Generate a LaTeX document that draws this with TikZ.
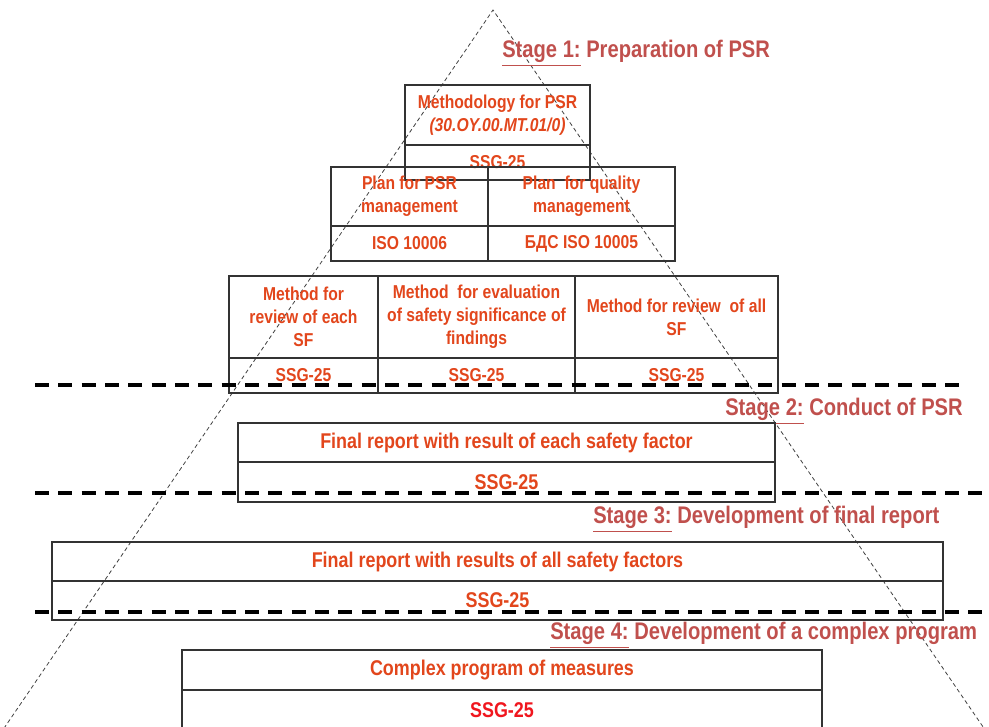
\documentclass[tikz,border=0pt]{standalone}
\usepackage{fontspec}
\setmainfont{Liberation Sans}[FakeStretch=0.84]
\usepackage{tikz}
\usetikzlibrary{positioning}
\definecolor{boxred}{RGB}{226,70,28}
\definecolor{stagered}{RGB}{192,80,77}
\definecolor{ssgred}{RGB}{240,22,30}

\begin{document}
\begin{tikzpicture}[x=0.75pt,y=-0.75pt,node distance=0pt,
  cell/.style={draw=black!80,line width=0.9pt,outer sep=0pt,inner sep=1pt,align=center,
    text=boxred,font=\bfseries\fontsize{14}{17.25}\selectfont},
  wide/.style={cell,font=\bfseries\fontsize{16}{18}\selectfont},
  stage/.style={anchor=west,inner sep=0pt,text=stagered,font=\bfseries\fontsize{18}{20}\selectfont},
  sep/.style={line width=2.3pt,dash pattern=on 10.5pt off 7pt},
  cone/.style={line width=0.6pt,black!75,dash pattern=on 3pt off 2.2pt}]
\useasboundingbox (0,0) rectangle (989,727);

\coordinate (apex) at (493,10);
\coordinate (bl) at (-4,740);
\coordinate (br) at (992,740);
\draw[cone] (bl) -- (apex) -- (br);

\node[stage] (s1) at (502,53) {\underline{Stage 1:} Preparation of PSR};
\node[cell,minimum width=138.75pt,minimum height=45pt] (meth) at (497.5,115)
  {Methodology for PSR\\\textit{(30.OY.00.MT.01/0)}};
\node[cell,minimum width=138.75pt,minimum height=26.25pt] (methssg) [below=of meth] {SSG-25};

\node[cell,minimum width=117.75pt,minimum height=44.25pt] (plana) at (409.5,196.5)
  {Plan for PSR\\management};
\node[cell,minimum width=140.25pt,minimum height=44.25pt] (planb) [right=of plana]
  {Plan\ \ for quality\\management};
\node[cell,minimum width=117.75pt,minimum height=26.25pt] (planassg) [below=of plana] {ISO 10006};
\node[cell,minimum width=140.25pt,minimum height=26.25pt] (planbssg) [below=of planb] {БДС ISO 10005};

\node[cell,minimum width=111.75pt,minimum height=61.5pt] (reva) at (303.5,317)
  {Method for\\review of each\\SF};
\node[cell,minimum width=147.75pt,minimum height=61.5pt] (revb) [right=of reva]
  {Method\ \ for evaluation\\of safety significance of\\findings};
\node[cell,minimum width=152.25pt,minimum height=61.5pt] (revc) [right=of revb]
  {Method for review\ \ of all\\SF};
\node[cell,minimum width=111.75pt,minimum height=26.25pt] (revassg) [below=of reva] {SSG-25};
\node[cell,minimum width=147.75pt,minimum height=26.25pt] (revbssg) [below=of revb] {SSG-25};
\node[cell,minimum width=152.25pt,minimum height=26.25pt] (revcssg) [below=of revc] {SSG-25};

\node[stage] (s2) at (725,411) {\underline{Stage 2:} Conduct of PSR};
\node[wide,minimum width=402.75pt,minimum height=29.25pt] (repa) at (506.5,442.5)
  {Final report with result of each safety factor};
\node[wide,minimum width=402.75pt,minimum height=30pt] (repassg) [below=of repa] {SSG-25};

\node[stage] (s3) at (593,519) {\underline{Stage 3:} Development of final report};
\node[wide,minimum width=668.25pt,minimum height=29.25pt] (repb) at (497.5,561.5)
  {Final report with results of all safety factors};
\node[wide,minimum width=668.25pt,minimum height=29.25pt] (repbssg) [below=of repb] {SSG-25};

\node[stage] (s4) at (550,635) {\underline{Stage 4:} Development of a complex program};
\node[wide,minimum width=480pt,minimum height=30pt] (prog) at (502,670)
  {Complex program of measures};
\node[wide,minimum width=480pt,minimum height=30pt,text=ssgred] (progssg) [below=of prog] {SSG-25};

\draw[sep] (35,385) -- (962,385);
\draw[sep] (35,493) -- (989,493);
\draw[sep] (35,612) -- (989,612);
\end{tikzpicture}
\end{document}
